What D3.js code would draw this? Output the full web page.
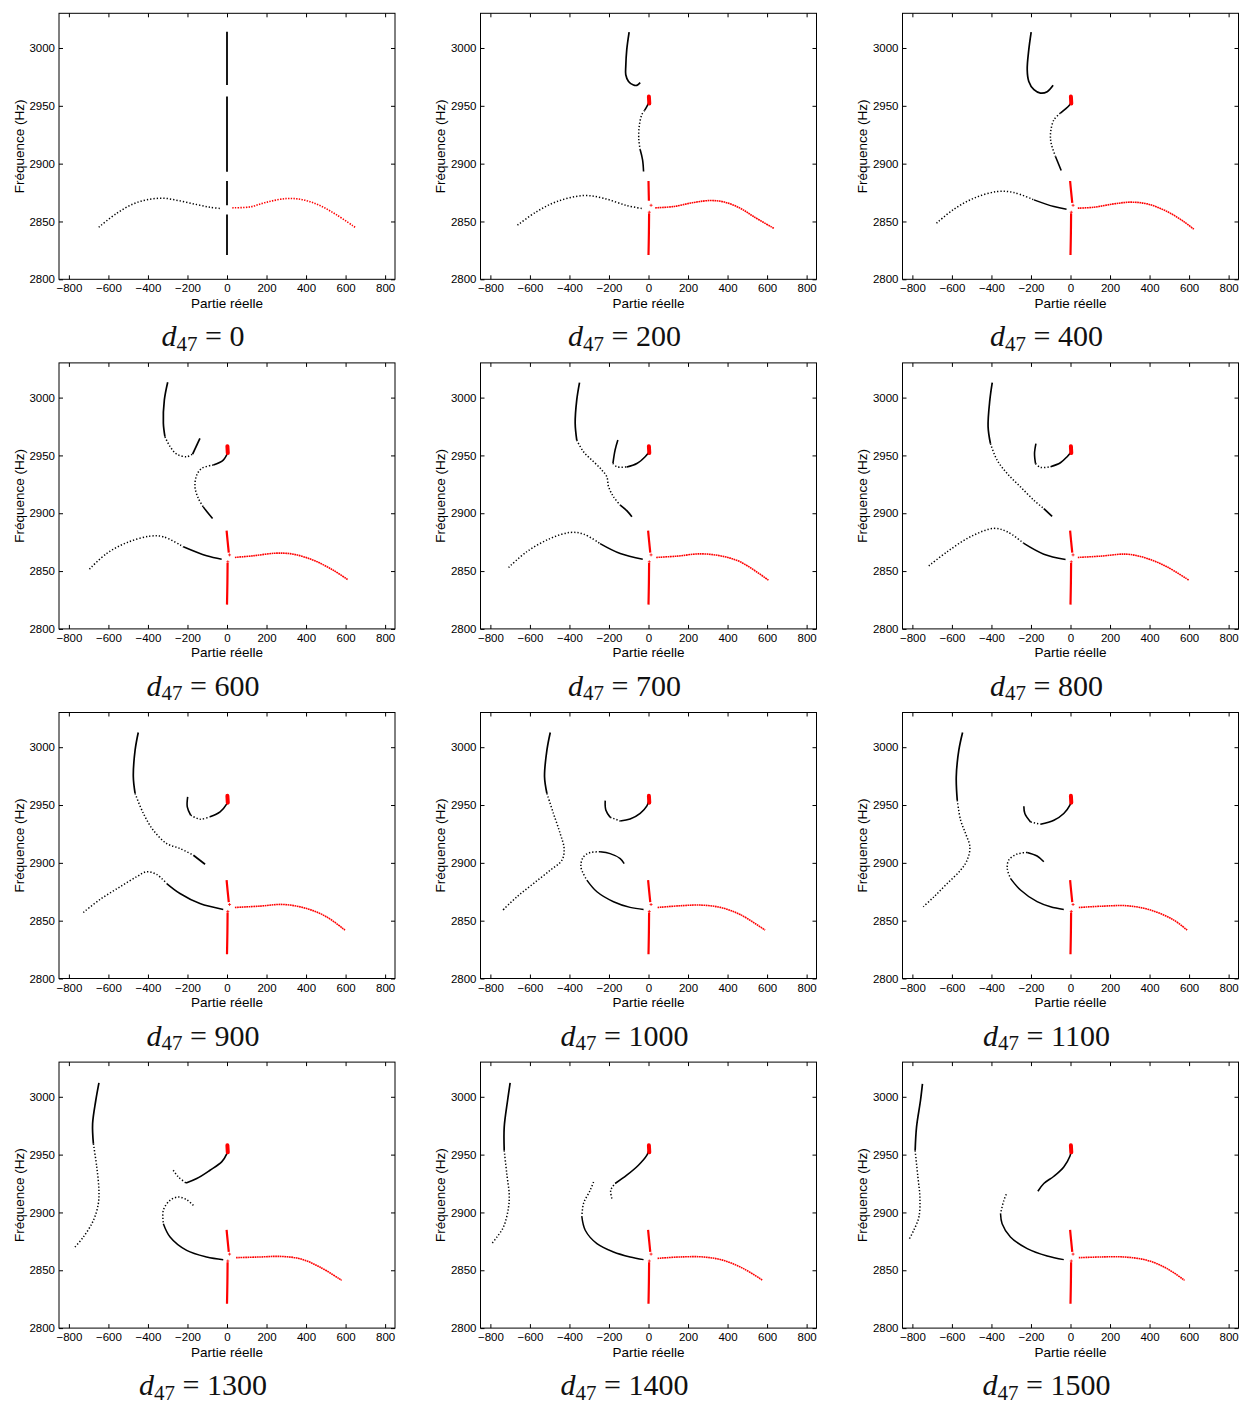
<!DOCTYPE html>
<html><head><meta charset="utf-8">
<script src="https://cdn.jsdelivr.net/npm/d3@7"></script>
<style>
html,body{margin:0;padding:0;background:#fff;}
svg{display:block;}
.tick text{font-family:"Liberation Sans",Arial,sans-serif;font-size:11.5px;fill:#000;}
.lab{font-family:"Liberation Sans",Arial,sans-serif;font-size:13.5px;fill:#000;}
.cap{font-family:"Liberation Serif","Times New Roman",serif;font-size:30px;fill:#111;}
</style></head>
<body>
<script>
// ---------- DATA ----------
const d47Values = [0,200,400,600,700,800,900,1000,1100,1300,1400,1500];
const xTicks = [-800,-600,-400,-200,0,200,400,600,800];
const yTicks = [2800,2850,2900,2950,3000];

// long "top" branch (black): dense pieces / sparse pieces per panel
const topDense = [
  [[[0,3014],[0,2968]],[[0,2958],[0,2893]],[[0,2885],[0,2864]],[[0,2856],[0,2821]]],
  [[[-98,3013.8],[-110,2998.6],[-115,2984.1],[-115,2976.9],[-101,2971.1],[-76,2968],[-59,2967.7],[-42,2970]]],
  [[[-199,3013.8],[-211,2998.6],[-219,2981.2],[-211,2971.1],[-185,2963.9],[-152,2961],[-118,2962.2],[-88,2967.7]]],
  [[[-300,3013.3],[-317,2998],[-322,2977.8],[-314,2966.2]],[[-174,2951.2],[-137,2964.8]]],
  [[[-349,3013],[-363,2998],[-371,2977.8],[-363,2963.3]],[[-143,2907],[-110,2902.2],[-84,2896.9]]],
  [[[-396,3013],[-408,2998],[-417,2974.9],[-405,2960.2]],[[-135,2904],[-93,2897.4]]],
  [[[-449,3012.7],[-465,2997.4],[-474,2974.4],[-465,2960]],[[-170,2906.6],[-111,2898.8]]],
  [[[-497,3012.7],[-514,2997.4],[-526,2974.4],[-514,2960]]],
  [[[-546,3012.7],[-565,2997.4],[-578,2974.4],[-573,2954.2]]],
  [[[-648,3012.1],[-664,2996.8],[-680,2976.7],[-676,2959.4]]],
  [[[-700,3012.1],[-713,2996.8],[-730,2973.8],[-730,2953.6]]],
  [[[-749,3011.2],[-759,2996.8],[-779,2973.8],[-786,2953.6]]]
];
const topSparse = [
  [],[],[],
  [[[-314,2966.2],[-288,2957.6],[-255,2951.2],[-204,2948.9],[-174,2951.2]]],
  [[[-363,2963.3],[-329,2953.2],[-278,2944.6],[-236,2937.4],[-211,2931.6],[-202,2922.9],[-177,2914.3],[-143,2907]]],
  [[[-405,2960.2],[-371,2945.8],[-320,2934.3],[-253,2922.8],[-185,2911.2],[-135,2904]]],
  [[[-465,2960],[-423,2942.7],[-373,2928.2],[-305,2916.7],[-238,2912.4],[-170,2906.6]]],
  [[[-514,2960],[-481,2942.7],[-447,2925.4],[-427,2912.4],[-438,2902.3],[-497,2893.7],[-582,2882.1],[-666,2870.6],[-737,2859.1]]],
  [[[-573,2954.2],[-556,2936.9],[-531,2925.4],[-509,2913.8],[-523,2902.3],[-556,2893.7],[-624,2882.1],[-691,2870.6],[-745,2862]]],
  [[[-676,2959.4],[-659,2939.4],[-648,2919.2],[-651,2907.6],[-676,2893.1],[-727,2878.7],[-777,2868.6]]],
  [[[-730,2953.6],[-717,2933.4],[-705,2916.1],[-708,2904.6],[-734,2887.3],[-767,2878.7],[-793,2873]]],
  [[[-786,2953.6],[-772,2930.5],[-762,2913.3],[-767,2896.1],[-793,2884.6],[-815,2877.3]]]
];

// branch ending at the red blob near (0, 2955)
const innerDense = [
  [],
  [[[2,2953],[-8,2949.5],[-20,2946]],[[-42,2912],[-30,2903.3],[-25,2893.2]]],
  [[[3,2953],[-8,2950],[-51,2943.7]],[[-76,2906.2],[-47,2894.1]]],
  [[[5,2953],[-19,2946],[-69,2941.7]],[[-120,2905.5],[-94,2899.7],[-73,2895.4]]],
  [[[-155,2963.3],[-169,2954.7],[-180,2943.1]],[[-110,2940],[-59,2943],[-17,2948.9],[3,2953]]],
  [[[-175,2960.2],[-182,2951.6],[-177,2943]],[[-101,2940.3],[-51,2943.7],[-17,2948.9],[3,2953]]],
  [[[-199,2957.1],[-201,2948.4],[-184,2941.2]],[[-86,2939.8],[-35,2944.1],[-2,2950.7],[3,2953]]],
  [[[-219,2953.8],[-216,2945.7],[-194,2939.4]],[[-143,2936.2],[-93,2937.9],[-42,2942.8],[-8,2949.2],[0,2953]]],
  [[[-236,2949],[-231,2942.7],[-202,2935.4]],[[-152,2933.4],[-84,2936.9],[-34,2942.7],[-3,2950],[3,2953]]],
  [[[-207,2925.5],[-153,2929.3],[-86,2936.5],[-27,2943.7],[-2,2950.4],[2,2953]]],
  [[[-169,2925],[-110,2932.2],[-51,2940.8],[-8,2949.5],[0,2953]]],
  [[[-165,2918.3],[-135,2925],[-84,2931.3],[-34,2939.4],[-3,2948.6],[3,2953]]]
];
const innerSparse = [
  [],
  [[[-20,2946],[-34,2942.3],[-47,2932.2],[-49,2920.6],[-42,2912]]],
  [[[-51,2943.7],[-84,2937.9],[-101,2926.4],[-98,2917.7],[-76,2906.2]]],
  [[[-69,2941.7],[-128,2938.8],[-153,2933],[-162,2922.9],[-145,2912.8],[-120,2905.5]]],
  [[[-180,2943.1],[-160,2940.2],[-110,2940]]],
  [[[-177,2943],[-152,2939.7],[-101,2940.3]]],
  [[[-184,2941.2],[-137,2937.8],[-86,2939.8]]],
  [[[-194,2939.4],[-143,2936.2]]],
  [[[-202,2935.4],[-152,2933.4]]],
  [[[-272,2936.5],[-246,2930.7],[-207,2925.5]]],
  [[[-185,2912],[-191,2919.2],[-169,2925]]],
  []
];

// lower-left branch ending near (-20, 2860)
const lowerSparse = [
  [[[-649,2845],[-558,2857.1],[-474,2865.2],[-406,2868.7],[-322,2870.1],[-238,2867.8],[-153,2864.6],[-86,2862.3],[-30,2861.2]]],
  [[[-663,2846.8],[-565,2858.6],[-464,2867.2],[-329,2872.4],[-228,2870.1],[-110,2863.8],[-25,2860.9]]],
  [[[-678,2848.5],[-590,2860.6],[-489,2870.1],[-371,2875.9],[-287,2875],[-185,2868.7]]],
  [[[-696,2851.7],[-609,2865.2],[-508,2874.5],[-390,2880.2],[-322,2879.7],[-221,2871]]],
  [[[-708,2853.1],[-616,2866.7],[-497,2878.2],[-396,2883.4],[-329,2882],[-245,2873.8]]],
  [[[-717,2854.5],[-624,2866.7],[-506,2879.7],[-388,2886.9],[-320,2884],[-236,2873.9]]],
  [[[-727,2857.1],[-643,2868.3],[-541,2879.3],[-457,2888],[-406,2892.3],[-356,2890],[-305,2882.1]]],
  [[[-245,2909.5],[-295,2908.9],[-329,2905.2],[-342,2896.6],[-312,2885.1]]],
  [[[-219,2909],[-270,2907.6],[-312,2902.5],[-320,2895.2],[-304,2886.6]]],
  [[[-170,2906.1],[-204,2911],[-246,2913.3],[-288,2910.5],[-322,2901.9],[-322,2890.3]]],
  [[[-278,2926.4],[-295,2919.2],[-329,2907.6],[-337,2896.1]]],
  [[[-325,2915.7],[-337,2910.5],[-354,2899]]]
];
const lowerDense = [
  [],[],
  [[[-185,2868.7],[-84,2862.9],[-20,2860.6]]],
  [[[-221,2871],[-103,2863.2],[-27,2860.3]]],
  [[[-245,2873.8],[-143,2865.2],[-29,2860.3]]],
  [[[-236,2873.9],[-135,2864.6],[-25,2860]]],
  [[[-305,2882.1],[-238,2873.5],[-137,2864.8],[-19,2859.7]]],
  [[[-123,2899.4],[-143,2903.7],[-194,2908],[-245,2909.5]],[[-312,2885.1],[-261,2875],[-177,2866.4],[-93,2861.5],[-25,2859.7]]],
  [[[-135,2901],[-169,2905.9],[-219,2909]],[[-304,2886.6],[-253,2876.5],[-169,2866.4],[-101,2862],[-34,2859.7]]],
  [[[-322,2890.3],[-288,2878.8],[-204,2867.2],[-103,2861.5],[-19,2859.2]]],
  [[[-337,2896.1],[-320,2884.6],[-261,2873],[-177,2865.8],[-93,2861.5],[-25,2859.2]]],
  [[[-354,2899],[-346,2890.3],[-304,2878.8],[-219,2868.7],[-118,2862.3],[-34,2859.2]]]
];

// red branch on the right
const rightRed = [
  [[27,2861.8],[116,2862.6],[201,2866.7],[302,2869.8],[386,2868.7],[470,2863.8],[555,2855.7],[648,2845]],
  [[34,2861.8],[126,2862.9],[228,2866.4],[312,2868.1],[379,2867],[464,2861.5],[531,2854.3],[636,2843.9]],
  [[37,2861.5],[118,2862.3],[219,2865.2],[304,2866.7],[388,2865.2],[489,2858.6],[573,2849.9],[624,2843.3]],
  [[40,2861.8],[133,2863.2],[251,2865.5],[336,2864.6],[437,2859.4],[538,2850.7],[610,2842.7]],
  [[39,2861.8],[143,2862.9],[261,2864.9],[363,2863.2],[464,2858],[607,2842.1]],
  [[37,2861.8],[152,2862.9],[287,2864.6],[388,2860.9],[489,2853.6],[599,2842.1]],
  [[40,2861.4],[167,2862.6],[285,2864],[403,2860.5],[504,2853.3],[597,2841.8]],
  [[46,2861.4],[160,2862.9],[261,2863.5],[363,2861.5],[464,2855.3],[590,2841.8]],
  [[42,2861.4],[169,2862.6],[287,2862.9],[405,2859.2],[523,2850.5],[590,2841.8]],
  [[46,2860.9],[167,2861.5],[268,2862],[369,2860],[470,2852.8],[580,2841.3]],
  [[46,2860.3],[160,2861.5],[278,2861.5],[379,2858.6],[481,2851.4],[578,2841.3]],
  [[42,2860.9],[152,2861.5],[270,2861.5],[388,2858.6],[489,2851.4],[577,2841.3]]
];
// red near-vertical stems and blob (panels with d47 > 0)
const redUpperStem = [[-2,2885],[3,2876],[9,2866]];
const redUpperStemFirst = [[0,2885],[1,2876],[2,2868]];
const redLowerStem = [[3,2857],[2,2840],[0,2821]];
const redBlob = [[2,2958],[4,2952]];
const redMarks = [[13,2864],[4,2858]];

// ---------- DRAW ----------
const W = 336, H = 266;
const colLeft = [59, 480.5, 902.5];
const rowTop0 = 13.3, rowStep = 349.6;

const svg = d3.select("body").append("svg").attr("width",1241).attr("height",1404);
const x = d3.scaleLinear().domain([-850,850]).range([0,W]);
const y = d3.scaleLinear().domain([2800,3030]).range([H,0]);
const line = d3.line().x(d=>x(d[0])).y(d=>y(d[1])).curve(d3.curveCatmullRom.alpha(0.5));

d47Values.forEach((dv,i)=>{
  const c = i%3, r = Math.floor(i/3);
  const g = svg.append("g").attr("transform",`translate(${colLeft[c]},${rowTop0 + r*rowStep})`);
  const clipId = "clip"+i;
  g.append("clipPath").attr("id",clipId).append("rect").attr("width",W).attr("height",H);
  const plot = g.append("g").attr("clip-path",`url(#${clipId})`);

  const drawSparse = pieces => pieces.forEach(p=>plot.append("path").attr("d",line(p))
      .attr("fill","none").attr("stroke","#000").attr("stroke-width",1.5).attr("stroke-dasharray","1.3,2"));
  const drawDense = (pieces,w) => pieces.forEach(p=>plot.append("path").attr("d",line(p))
      .attr("fill","none").attr("stroke","#000").attr("stroke-width",w));

  drawSparse(lowerSparse[i]); drawDense(lowerDense[i],1.5);
  drawSparse(topSparse[i]); drawDense(topDense[i], i===0?1.8:1.7);
  drawSparse(innerSparse[i]); drawDense(innerDense[i],1.6);

  // red branch
  plot.append("path").attr("d",line(rightRed[i])).attr("fill","none")
    .attr("stroke","#f00").attr("stroke-width",1.6).attr("stroke-dasharray", i===0?"1.4,1.3":"1.7,0.6");
  if(i>0){
    [i===1?redUpperStemFirst:redUpperStem, redLowerStem].forEach(s=>
      plot.append("path").attr("d",line(s)).attr("fill","none").attr("stroke","#f00").attr("stroke-width",2.2));
    plot.append("path").attr("d",line(redBlob)).attr("fill","none").attr("stroke","#f00")
      .attr("stroke-width",4).attr("stroke-linecap","round");
    redMarks.forEach(m=>{
      plot.append("path").attr("d",`M${x(m[0])-1.5},${y(m[1])}h3M${x(m[0])},${y(m[1])-1.5}v3`)
        .attr("stroke","#f00").attr("stroke-width",0.8);
    });
  }

  // axes with inward ticks
  const ax = (a)=>a.tickSizeOuter(0);
  const gb = g.append("g").attr("transform",`translate(0,${H})`)
    .call(ax(d3.axisBottom(x).tickValues(xTicks).tickSizeInner(-4).tickPadding(5).tickFormat(d3.format("d"))));
  const gt = g.append("g").call(ax(d3.axisTop(x).tickValues(xTicks).tickSizeInner(-4).tickFormat("")));
  const gl = g.append("g").call(ax(d3.axisLeft(y).tickValues(yTicks).tickSizeInner(-4).tickPadding(4).tickFormat(d3.format("d"))));
  const gr = g.append("g").attr("transform",`translate(${W},0)`)
    .call(ax(d3.axisRight(y).tickValues(yTicks).tickSizeInner(-4).tickFormat("")));
  [gb,gt,gl,gr].forEach(a=>{a.select(".domain").remove(); a.selectAll(".tick line").attr("stroke","#000");});

  g.append("rect").attr("width",W).attr("height",H).attr("fill","none").attr("stroke","#000").attr("stroke-width",1);

  g.append("text").attr("class","lab").attr("x",W/2).attr("y",H+28.5).attr("text-anchor","middle").text("Partie réelle");
  g.append("text").attr("class","lab").attr("transform",`translate(-35.5,${H/2}) rotate(-90)`)
    .attr("text-anchor","middle").text("Fréquence (Hz)");

  const cap = g.append("text").attr("class","cap").attr("x",144).attr("y",333).attr("text-anchor","middle");
  cap.append("tspan").attr("font-style","italic").text("d");
  cap.append("tspan").attr("font-size","21px").attr("dy",4.5).text("47");
  cap.append("tspan").attr("dy",-4.5).text(" = " + dv);
});
</script>
</body></html>
